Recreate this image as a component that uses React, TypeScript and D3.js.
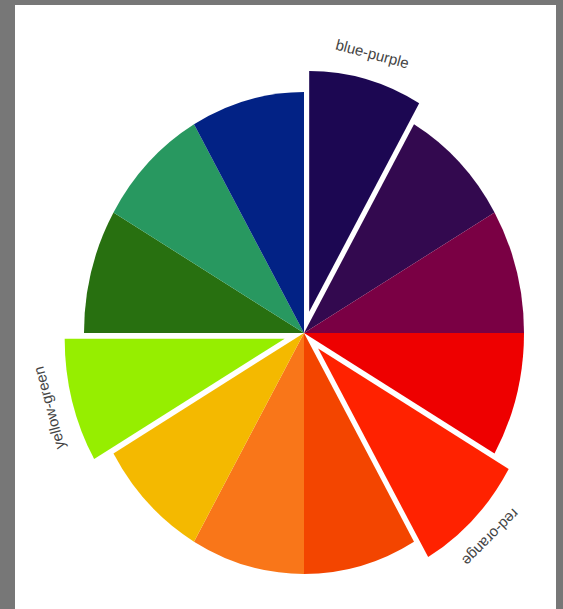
import React, { useRef, useEffect } from 'react';
import * as d3 from 'd3';

const names = [
  'blue-purple', 'purple', 'red-purple', 'red', 'red-orange', 'orange',
  'yellow-orange', 'yellow', 'yellow-green', 'green', 'blue-green', 'blue',
];
const values = [1, 1, 1, 1, 1, 1, 1, 1, 1, 1, 1, 1];
const colors = [
  '#1c0752', '#33094f', '#7a0044', '#ee0000', '#ff2200', '#f34500',
  '#f97619', '#f4b900', '#96ee00', '#287010', '#289860', '#022285',
];
const exploded = ['blue-purple', 'red-orange', 'yellow-green'];

const App: React.FC = () => {
  const ref = useRef<SVGSVGElement>(null);

  useEffect(() => {
    const svg = d3.select(ref.current);
    svg.selectAll('*').remove();
    const width = 563;
    const height = 609;
    const cx = 304;
    const cy = 333;
    const r = 220;
    const ky = 1.095; // picture is a little stretched vertically
    const offset = 20;

    svg.attr('width', width).attr('height', height);

    svg.append('rect').attr('width', width).attr('height', height).attr('fill', '#777');
    svg.append('rect').attr('x', 15).attr('y', 5).attr('width', 541).attr('height', 604).attr('fill', '#fff');

    const items = names.map((n, i) => ({ name: n, value: values[i], color: colors[i] }));
    const pie = d3.pie<any>().sort(null).value(d => d.value).startAngle(0).endAngle(2 * Math.PI);
    const arcs = pie(items);
    const arc = d3.arc<any>().innerRadius(0).outerRadius(r);

    const g = svg.append('g').attr('transform', `translate(${cx},${cy}) scale(1,${ky})`);

    g.selectAll('path')
      .data(arcs)
      .join('path')
      .attr('fill', d => d.data.color)
      .attr('transform', d => {
        if (!exploded.includes(d.data.name)) return null;
        const a = (d.startAngle + d.endAngle) / 2;
        return `translate(${offset * Math.sin(a)},${-offset * Math.cos(a)})`;
      })
      .attr('d', arc);

    const labelR = r + offset + 24;
    svg.append('g')
      .selectAll('text')
      .data(arcs.filter(d => exploded.includes(d.data.name)))
      .join('text')
      .attr('transform', d => {
        const a = (d.startAngle + d.endAngle) / 2;
        const x = cx + labelR * Math.sin(a);
        const y = cy - labelR * Math.cos(a) * ky;
        return `translate(${x},${y}) rotate(${(a * 180) / Math.PI})`;
      })
      .attr('text-anchor', 'middle')
      .attr('dy', '0.35em')
      .attr('font-family', 'Liberation Sans, Arial, sans-serif')
      .attr('font-size', 15)
      .attr('fill', '#444')
      .text(d => d.data.name);
  }, []);

  return <svg ref={ref} style={{ position: 'absolute', left: 0, top: 0 }}></svg>;
};

export default App;
